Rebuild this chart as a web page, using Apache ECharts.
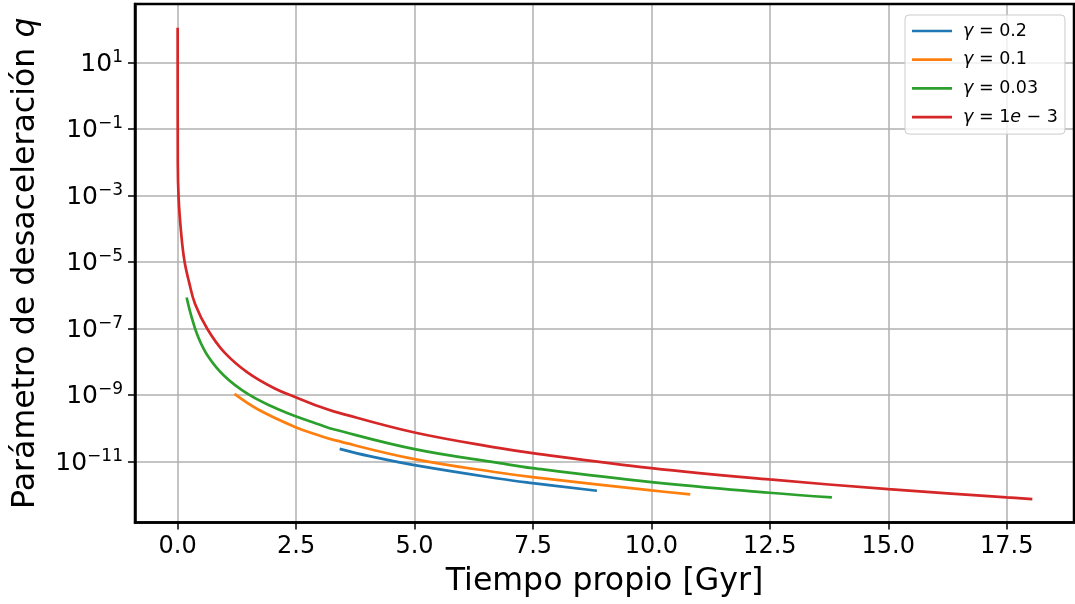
<!DOCTYPE html>
<html>
<head>
<meta charset="utf-8">
<script src="https://cdn.jsdelivr.net/npm/echarts@6/dist/echarts.min.js"></script>
<style>html,body{margin:0;padding:0;background:#fff}#c{width:1075px;height:604px}</style>
</head>
<body>
<div id="c"></div>
<script>
// Data: proper time t [Gyr] and log10 of deceleration parameter q
const seriesNames = ['γ = 0.2', 'γ = 0.1', 'γ = 0.03', 'γ = 1e − 3'];
const colors = ['#1f77b4', '#ff7f0e', '#2ca02c', '#d62728'];

const tG02 = [3.42, 4.05, 5.0, 6.8, 7.49, 8.85];
const logQG02 = [-10.62, -10.84, -11.11, -11.52, -11.65, -11.88];

const tG01 = [1.2, 1.69, 2.49, 2.99, 3.31, 5.0, 6.8, 7.49, 10.0, 10.82];
const logQG01 = [-8.97, -9.43, -9.97, -10.22, -10.36, -10.93, -11.34, -11.47, -11.87, -11.99];

const tG003 = [0.19, 0.283, 0.423, 0.634, 0.987, 1.48, 2.04, 2.49, 2.99, 3.31, 5.0, 6.8, 7.49, 10.0, 12.49, 13.81];
const logQG003 = [-6.07, -6.6, -7.22, -7.82, -8.43, -8.97, -9.38, -9.64, -9.89, -10.04, -10.63, -11.05, -11.2, -11.62, -11.94, -12.08];

const tG1e3 = [0, 0.003, 0.021, 0.072, 0.141, 0.24, 0.37, 0.634, 0.987, 1.48, 2.04, 2.49, 2.99, 3.31, 5.0, 6.8, 7.49, 10.0, 12.49, 15.0, 17.5, 18.04];
const logQG1e3 = [2.04, -2.0, -3.09, -4.1, -4.95, -5.6, -6.27, -7.03, -7.72, -8.33, -8.8, -9.07, -9.35, -9.5, -10.13, -10.6, -10.75, -11.2, -11.54, -11.83, -12.08, -12.13];

const xTicks = [0, 2.5, 5, 7.5, 10, 12.5, 15, 17.5];
const yTickExps = [-11, -9, -7, -5, -3, -1, 1];

const xs = [tG02, tG01, tG003, tG1e3];
const ys = [logQG02, logQG01, logQG003, logQG1e3];

const font = 'DejaVu Sans';
const chart = echarts.init(document.getElementById('c'), null, {renderer: 'canvas'});

const series = seriesNames.map((n, i) => ({
  name: n,
  type: 'line',
  data: xs[i].map((t, k) => [t, ys[i][k]]),
  showSymbol: false,
  smooth: 0.4,
  lineStyle: {color: colors[i], width: 2.7},
  itemStyle: {color: colors[i]},
  z: 3
}));

function legendLabel(name) {
  if (name.indexOf('1e') >= 0) return '{g|γ} = 1{g|e} − 3';
  return '{g|γ}' + name.slice(1);
}

chart.setOption({
  animation: false,
  backgroundColor: '#fff',
  grid: {left: 135, top: 4, right: 1, bottom: 81.5, show: true, borderColor: '#000', borderWidth: 2.5, backgroundColor: 'transparent', z: 10},
  xAxis: {
    type: 'value', min: -0.9, max: 18.92,
    name: 'Tiempo propio [Gyr]', nameLocation: 'middle', nameGap: 43,
    nameTextStyle: {fontFamily: font, fontSize: 31.6, color: '#000'},
    axisLine: {show: true, onZero: false, lineStyle: {color: '#000', width: 2.5}},
    axisTick: {show: true, customValues: xTicks, length: 7, lineStyle: {color: '#000', width: 1.5}},
    axisLabel: {customValues: xTicks, margin: 12, fontFamily: font, fontSize: 24, color: '#000', formatter: v => v.toFixed(1)},
    splitLine: {show: true, lineStyle: {color: '#b0b0b0', width: 1.5}}
  },
  yAxis: {
    type: 'value', min: -12.835, max: 2.755,
    name: 'Parámetro de desaceleración {i|q}', nameLocation: 'middle', nameGap: 93,
    nameTextStyle: {fontFamily: font, fontSize: 31.6, color: '#000', rich: {i: {fontFamily: font, fontSize: 31.6, fontStyle: 'italic', color: '#000'}}},
    axisLine: {show: true, onZero: false, lineStyle: {color: '#000', width: 2.5}},
    axisTick: {show: true, customValues: yTickExps, length: 7, lineStyle: {color: '#000', width: 1.5}},
    axisLabel: {
      customValues: yTickExps, margin: 12, color: '#000',
      formatter: v => '{b|10}{s|' + (v < 0 ? '\u2212' + Math.abs(v) : String(v)) + '}',
      rich: {
        b: {fontFamily: font, fontSize: 25, color: '#000', verticalAlign: 'bottom', lineHeight: 29},
        s: {fontFamily: font, fontSize: 17, color: '#000', verticalAlign: 'bottom', lineHeight: 29, padding: [0, 0, 11, 0]}
      }
    },
    splitLine: {show: true, lineStyle: {color: '#b0b0b0', width: 1.5}}
  },
  legend: {
    orient: 'vertical', left: 905, top: 15,
    padding: [6, 7, 7, 7], itemGap: 8.7, itemWidth: 40, itemHeight: 2.7, icon: 'rect',
    backgroundColor: 'rgba(255,255,255,0.8)', borderColor: '#cccccc', borderWidth: 1, borderRadius: 4,
    data: seriesNames,
    formatter: legendLabel,
    textStyle: {fontFamily: font, fontSize: 17.5, color: '#000', lineHeight: 20, padding: [0, 0, 0, 6],
      rich: {g: {fontFamily: font, fontSize: 17.5, fontStyle: 'italic', color: '#000', lineHeight: 20}}}
  },
  series: series
});
</script>
</body>
</html>
